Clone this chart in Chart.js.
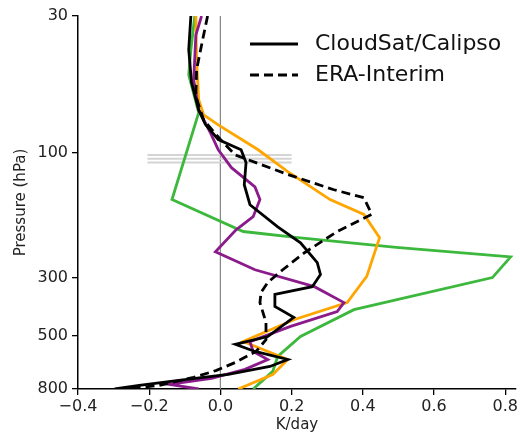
<!DOCTYPE html>
<html>
<head>
<meta charset="utf-8">
<script src="https://cdn.jsdelivr.net/npm/chart.js@4.4.1/dist/chart.umd.min.js"></script>
<style>
  body { margin: 0; background: #fff; }
  #wrap { width: 520px; height: 435px; }
</style>
</head>
<body>
<div id="wrap"><canvas id="heatingChart" width="520" height="435"></canvas></div>
<script>
// axis ticks
var pressureTicks = [30, 100, 300, 500, 800];
var heatingTicks = [-0.4, -0.2, 0.0, 0.2, 0.4, 0.6, 0.8];

// CloudSat/Calipso (solid black)
var obsP = [30, 40.4, 54, 68.6, 78, 89, 97.4, 109, 132.5, 158, 192, 221, 263, 292, 325, 348, 387, 426, 504, 540, 575, 617, 656, 704, 742, 775, 800];
var obsK = [-0.083, -0.089, -0.081, -0.061, -0.042, -0.006, 0.058, 0.072, 0.067, 0.083, 0.161, 0.225, 0.272, 0.281, 0.258, 0.153, 0.153, 0.206, 0.133, 0.042, 0.097, 0.189, 0.139, 0.022, -0.117, -0.228, -0.297];

// ERA-Interim (dashed black)
var eraP = [30, 37, 48.2, 61, 75, 89, 102, 121, 138.5, 148.5, 172, 200, 241, 280, 313, 342, 374, 445, 518, 575, 633, 679, 722, 775, 800];
var eraK = [-0.036, -0.05, -0.067, -0.069, -0.047, 0.0, 0.042, 0.189, 0.319, 0.403, 0.425, 0.328, 0.236, 0.175, 0.133, 0.114, 0.111, 0.128, 0.128, 0.1, 0.042, -0.011, -0.075, -0.172, -0.269];

// purple model
var purpleP = [30, 35.5, 52.7, 68.6, 84, 97.4, 114, 135, 151, 175.5, 197, 239, 280, 325, 374, 405, 461, 527, 575, 617, 673, 729, 768, 800];
var purpleK = [-0.053, -0.069, -0.075, -0.061, -0.028, -0.006, 0.031, 0.097, 0.111, 0.092, 0.044, -0.014, 0.097, 0.264, 0.347, 0.328, 0.197, 0.083, 0.092, 0.133, 0.069, -0.025, -0.144, -0.061];

// orange model
var orangeP = [30, 44, 62.7, 71.6, 78.2, 97.4, 118, 151, 172, 211, 297, 374, 434, 527, 617, 704, 800];
var orangeK = [-0.069, -0.067, -0.061, -0.047, -0.006, 0.106, 0.189, 0.308, 0.403, 0.447, 0.411, 0.356, 0.208, 0.064, 0.189, 0.147, 0.05];

// green model
var greenP = [30, 40.4, 50.4, 70.3, 151, 200, 211, 230, 250, 300, 398, 504, 600, 685, 800];
var greenK = [-0.072, -0.083, -0.089, -0.061, -0.136, 0.064, 0.217, 0.494, 0.815, 0.764, 0.375, 0.225, 0.161, 0.147, 0.092];

// faint grey band near 100 hPa
var bandP = [102, 105.5, 109];
var bandK = [-0.205, 0.2];

function toPoints(kArr, pArr) {
    return kArr.map(function (k, i) { return { x: k, y: pArr[i] }; });
}

function profile(label, kArr, pArr, color, dash) {
    return {
        label: label,
        data: toPoints(kArr, pArr),
        borderColor: color,
        borderWidth: 2.8,
        borderDash: dash || [],
        showLine: true,
        pointRadius: 0,
        tension: 0
    };
}

var datasets = [
    profile('CloudSat/Calipso', obsK, obsP, '#000000'),
    profile('ERA-Interim', eraK, eraP, '#000000', [9, 5]),
    profile('purple', purpleK, purpleP, '#8b1a8b'),
    profile('orange', orangeK, orangeP, '#ffa500'),
    profile('green', greenK, greenP, '#3cb83c')
];

bandP.forEach(function (p) {
    datasets.push({
        label: 'band',
        data: [{ x: bandK[0], y: p }, { x: bandK[1], y: p }],
        borderColor: '#d4d4d4',
        borderWidth: 2,
        showLine: true,
        pointRadius: 0
    });
});

// zero line
datasets.push({
    label: 'zero',
    data: [{ x: 0, y: pressureTicks[0] }, { x: 0, y: pressureTicks[pressureTicks.length - 1] }],
    borderColor: '#8a8a8a',
    borderWidth: 1,
    showLine: true,
    pointRadius: 0
});

// legend drawn inside the plot, top right
var legendPlugin = {
    id: 'profileLegend',
    afterDraw: function (chart) {
        var ctx = chart.ctx;
        var items = [
            { text: 'CloudSat/Calipso', dash: [], y: 44 },
            { text: 'ERA-Interim', dash: [9, 5], y: 75 }
        ];
        ctx.save();
        ctx.font = '22px "DejaVu Sans"';
        ctx.textBaseline = 'middle';
        ctx.fillStyle = '#111';
        items.forEach(function (it) {
            ctx.beginPath();
            ctx.setLineDash(it.dash);
            ctx.lineWidth = 3;
            ctx.strokeStyle = '#000';
            ctx.moveTo(250, it.y);
            ctx.lineTo(298, it.y);
            ctx.stroke();
            ctx.setLineDash([]);
            ctx.fillText(it.text, 315, it.y);
        });
        ctx.restore();
    }
};

var canvas = document.getElementById('heatingChart').getContext('2d');
var profileChart = new Chart(canvas, {
    type: 'scatter',
    data: { datasets: datasets },
    options: {
        responsive: false,
        animation: false,
        layout: { padding: { top: 16, right: 1, left: 12, bottom: 0 } },
        plugins: {
            legend: { display: false },
            tooltip: { enabled: false }
        },
        scales: {
            x: {
                type: 'linear',
                min: -0.4,
                max: 0.83,
                afterBuildTicks: function (scale) {
                    scale.ticks = heatingTicks.map(function (v) { return { value: v }; });
                },
                afterFit: function (scale) { scale.height = 46; },
                ticks: {
                    color: '#222',
                    font: { family: 'DejaVu Sans', size: 16 },
                    padding: 2,
                    maxRotation: 0,
                    callback: function (v) {
                        return (v < -1e-9 ? '\u2212' : '') + Math.abs(v).toFixed(1);
                    }
                },
                grid: { drawOnChartArea: false, drawTicks: true, tickLength: 6, color: '#000', lineWidth: 1.3 },
                border: { display: true, color: '#000', width: 1.5 },
                title: {
                    display: true,
                    text: 'K/day',
                    color: '#222',
                    font: { family: 'DejaVu Sans', size: 15 },
                    padding: { top: 0, bottom: 1 }
                }
            },
            y: {
                type: 'logarithmic',
                reverse: true,
                min: 30,
                max: 800,
                afterBuildTicks: function (scale) {
                    scale.ticks = pressureTicks.map(function (v) { return { value: v }; });
                },
                afterFit: function (scale) { scale.width = 66; },
                ticks: {
                    color: '#222',
                    font: { family: 'DejaVu Sans', size: 16 },
                    padding: 4,
                    callback: function (v) { return String(v); }
                },
                grid: { drawOnChartArea: false, drawTicks: true, tickLength: 6, color: '#000', lineWidth: 1.3 },
                border: { display: true, color: '#000', width: 1.5 },
                title: {
                    display: true,
                    text: 'Pressure (hPa)',
                    color: '#222',
                    font: { family: 'DejaVu Sans', size: 15 },
                    padding: 0
                }
            }
        }
    },
    plugins: [legendPlugin]
});
</script>
</body>
</html>
